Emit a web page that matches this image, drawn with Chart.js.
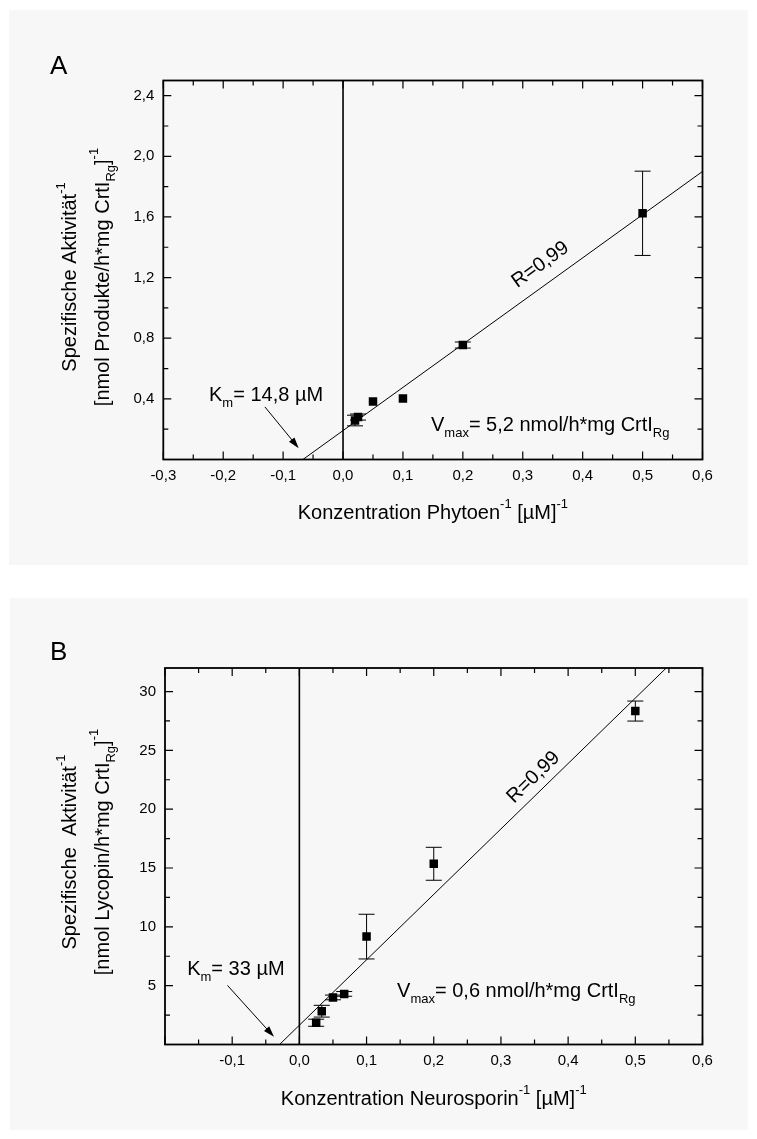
<!DOCTYPE html>
<html>
<head>
<meta charset="utf-8">
<script src="https://cdn.jsdelivr.net/npm/chart.js@4.4.1/dist/chart.umd.min.js"></script>
<style>
body { margin: 0; background: #fff; width: 757px; height: 1139px; position: relative; overflow: hidden; }
.panel { position: absolute; background: #f7f7f7; }
canvas { position: absolute; left: 0; }
</style>
</head>
<body>
<div class="panel" style="left:9px;top:10px;width:739px;height:555px"></div>
<div class="panel" style="left:10px;top:598px;width:738px;height:532px"></div>
<canvas id="chartA" width="757" height="580" style="top:0"></canvas>
<canvas id="chartB" width="757" height="559" style="top:580px"></canvas>
<script>
// DATA PANEL A (PHYTOEN)
const concA = [0.02, 0.025, 0.05, 0.1, 0.2, 0.5];
const activityA = [0.257, 0.28, 0.382, 0.403, 0.755, 1.624];
const errorA = [0.035, 0.02, 0, 0, 0.02, 0.278];
const fitXA = [-0.067, 0.6];
const fitYA = [0, 1.9];
const xTicksA = [-0.3, -0.2, -0.1, 0, 0.1, 0.2, 0.3, 0.4, 0.5, 0.6];
const xMinorA = [-0.25, -0.15, -0.05, 0.05, 0.15, 0.25, 0.35, 0.45, 0.55];
const yTicksA = [0.4, 0.8, 1.2, 1.6, 2.0, 2.4];
const yMinorA = [0.2, 0.6, 1.0, 1.4, 1.8, 2.2];

// DATA PANEL B (NEUROSPORIN)
const concB = [0.025, 0.0333, 0.05, 0.0667, 0.1, 0.2, 0.5];
const activityB = [1.85, 2.83, 4.0, 4.3, 9.17, 15.36, 28.34];
const errorB = [0.3, 0.5, 0.2, 0.2, 1.9, 1.4, 0.85];
const fitXB = [-0.0295, 0.546];
const fitYB = [0, 32];
const xTicksB = [-0.1, 0, 0.1, 0.2, 0.3, 0.4, 0.5, 0.6];
const xMinorB = [-0.15, -0.05, 0.05, 0.15, 0.25, 0.35, 0.45, 0.55];
const yTicksB = [5, 10, 15, 20, 25, 30];
const yMinorB = [2.5, 7.5, 12.5, 17.5, 22.5, 27.5];

const FONT = '"Liberation Sans", Arial, sans-serif';
const BIG = '20px ' + FONT;
const SMALL = '13px ' + FONT;

// FUNCTION FOR TEXT WITH SUPER- AND SUBSCRIPTS
function drawRich(ctx, parts, x, y, align, angle, base) {
    ctx.save();
    ctx.translate(x, y);
    ctx.rotate(angle || 0);
    ctx.fillStyle = "#000";
    ctx.textAlign = "left";
    ctx.textBaseline = base || "alphabetic";
    let total = 0;
    parts.forEach(function (p) {
        ctx.font = p[1] === 0 ? BIG : SMALL;
        total += ctx.measureText(p[0]).width;
    });
    let cx = align === "center" ? -total / 2 : 0;
    parts.forEach(function (p) {
        ctx.font = p[1] === 0 ? BIG : SMALL;
        const dy = p[1] === 1 ? -11 : p[1] === -1 ? 6 : 0;
        ctx.fillText(p[0], cx, dy);
        cx += ctx.measureText(p[0]).width;
    });
    ctx.restore();
}
// FUNCTION FOR TEXT WITH SUPER- AND SUBSCRIPTS

// PLUGIN: FRAME, INWARD TICKS, ERROR BARS, NOTES
const paperPlugin = {
    id: "paper",
    afterDatasetsDraw(chart, args, o) {
        const ctx = chart.ctx;
        const a = chart.chartArea;
        const x = chart.scales.x;
        const y = chart.scales.y;
        ctx.save();
        ctx.strokeStyle = "#000";
        ctx.fillStyle = "#000";

        // error bars
        ctx.lineWidth = 1;
        o.xs.forEach(function (v, i) {
            const e = o.errs[i];
            if (!e) return;
            const px = x.getPixelForValue(v);
            const top = y.getPixelForValue(o.ys[i] + e);
            const bot = y.getPixelForValue(o.ys[i] - e);
            ctx.beginPath();
            ctx.moveTo(px, top); ctx.lineTo(px, bot);
            ctx.moveTo(px - 8, top); ctx.lineTo(px + 8, top);
            ctx.moveTo(px - 8, bot); ctx.lineTo(px + 8, bot);
            ctx.stroke();
        });

        // ticks on all four sides, pointing inward
        ctx.lineWidth = 1.2;
        function xt(list, len) {
            list.forEach(function (v) {
                const p = x.getPixelForValue(v);
                ctx.beginPath();
                ctx.moveTo(p, a.bottom); ctx.lineTo(p, a.bottom - len);
                ctx.moveTo(p, a.top); ctx.lineTo(p, a.top + len);
                ctx.stroke();
            });
        }
        function yt(list, len) {
            list.forEach(function (v) {
                const p = y.getPixelForValue(v);
                ctx.beginPath();
                ctx.moveTo(a.left, p); ctx.lineTo(a.left + len, p);
                ctx.moveTo(a.right, p); ctx.lineTo(a.right - len, p);
                ctx.stroke();
            });
        }
        xt(o.xMajor, 8); xt(o.xMinor, 5);
        yt(o.yMajor, 8); yt(o.yMinor, 5);
        ctx.lineWidth = 1.8;
        ctx.strokeRect(a.left, a.top, a.right - a.left, a.bottom - a.top);

        // arrow to x intercept
        const ar = o.arrow;
        const x1 = x.getPixelForValue(ar[0]), y1 = y.getPixelForValue(ar[1]);
        const x2 = x.getPixelForValue(ar[2]), y2 = y.getPixelForValue(ar[3]);
        const ang = Math.atan2(y2 - y1, x2 - x1);
        ctx.lineWidth = 1;
        ctx.beginPath();
        ctx.moveTo(x1, y1);
        ctx.lineTo(x2 - 8 * Math.cos(ang), y2 - 8 * Math.sin(ang));
        ctx.stroke();
        ctx.beginPath();
        ctx.moveTo(x2, y2);
        ctx.lineTo(x2 - 11 * Math.cos(ang) + 3.5 * Math.sin(ang), y2 - 11 * Math.sin(ang) - 3.5 * Math.cos(ang));
        ctx.lineTo(x2 - 11 * Math.cos(ang) - 3.5 * Math.sin(ang), y2 - 11 * Math.sin(ang) + 3.5 * Math.cos(ang));
        ctx.closePath();
        ctx.fill();
        ctx.restore();

        // notes
        drawRich(ctx, o.km, x.getPixelForValue(o.kmAt[0]), y.getPixelForValue(o.kmAt[1]), "left");
        drawRich(ctx, o.vmax, x.getPixelForValue(o.vmaxAt[0]), y.getPixelForValue(o.vmaxAt[1]), "left");
        const fx1 = x.getPixelForValue(o.fitX[0]), fy1 = y.getPixelForValue(o.fitY[0]);
        const fx2 = x.getPixelForValue(o.fitX[1]), fy2 = y.getPixelForValue(o.fitY[1]);
        drawRich(ctx, [["R=0,99", 0]], x.getPixelForValue(o.rAt[0]), y.getPixelForValue(o.rAt[1]), "center",
            Math.atan2(fy2 - fy1, fx2 - fx1), "middle");

        // axis titles and panel letter
        drawRich(ctx, o.xTitle, (a.left + a.right) / 2, a.bottom + o.xTitleGap, "center");
        drawRich(ctx, o.yTitle1, 76, o.yTitleMid, "center", -Math.PI / 2);
        drawRich(ctx, o.yTitle2, 108.5, o.yTitleMid, "center", -Math.PI / 2);
        ctx.save();
        ctx.font = "26px " + FONT;
        ctx.fillStyle = "#000";
        ctx.fillText(o.letter, 50, o.letterY);
        ctx.restore();
    },
};
// PLUGIN: FRAME, INWARD TICKS, ERROR BARS, NOTES

// FUNCTION FOR ONE PANEL
function makePanel(id, d) {
    const pts = d.xs.map(function (v, i) { return { x: v, y: d.ys[i] }; });
    const fit = d.fitX.map(function (v, i) { return { x: v, y: d.fitY[i] }; });
    const fmt = d.fmt;
    return new Chart(document.getElementById(id), {
        type: "scatter",
        data: {
            datasets: [
                { type: "line", data: fit, borderColor: "#000", borderWidth: 1, pointRadius: 0, fill: false },
                { type: "line", data: [{ x: 0, y: d.yMin }, { x: 0, y: d.yMax }], borderColor: "#000", borderWidth: 1.6, pointRadius: 0, fill: false },
                { data: pts, pointStyle: "rect", pointRadius: 6, backgroundColor: "#000", borderWidth: 0 },
            ],
        },
        options: {
            responsive: false,
            animation: false,
            devicePixelRatio: 1,
            layout: { padding: { left: 0, top: d.padTop, right: 54.5, bottom: 0 } },
            plugins: {
                legend: { display: false },
                tooltip: { enabled: false },
                paper: d,
            },
            scales: {
                x: {
                    type: "linear",
                    min: d.xMin,
                    max: d.xMax,
                    grid: { display: false, drawTicks: false },
                    border: { display: false },
                    afterBuildTicks: function (s) { s.ticks = d.xMajorLabels.map(function (v) { return { value: v }; }); },
                    afterFit: function (s) { s.height = d.xHeight; },
                    ticks: {
                        padding: 7.5,
                        color: "#000",
                        font: { family: FONT, size: 15 },
                        maxRotation: 0,
                        callback: function (v) { return v.toFixed(1).replace(".", ","); },
                    },
                },
                y: {
                    type: "linear",
                    min: d.yMin,
                    max: d.yMax,
                    grid: { display: false, drawTicks: false },
                    border: { display: false },
                    afterBuildTicks: function (s) { s.ticks = d.yMajor.map(function (v) { return { value: v }; }); },
                    afterFit: function (s) { s.width = d.yWidth; },
                    ticks: {
                        padding: 9,
                        color: "#000",
                        font: { family: FONT, size: 15 },
                        callback: fmt,
                    },
                },
            },
        },
        plugins: [paperPlugin],
    });
}
// FUNCTION FOR ONE PANEL

makePanel("chartA", {
    xs: concA, ys: activityA, errs: errorA, fitX: fitXA, fitY: fitYA,
    xMin: -0.3, xMax: 0.6, yMin: 0, yMax: 2.5,
    xMajor: xTicksA, xMajorLabels: xTicksA, xMinor: xMinorA, yMajor: yTicksA, yMinor: yMinorA,
    fmt: function (v) { return v.toFixed(1).replace(".", ","); },
    padTop: 80.5, xHeight: 120.5, yWidth: 163.3,
    arrow: [-0.1304, 0.347, -0.074, 0.075],
    km: [["K", 0], ["m", -1], ["= 14,8 µM", 0]], kmAt: [-0.2237, 0.387],
    vmax: [["V", 0], ["max", -1], ["= 5,2 nmol/h*mg CrtI", 0], ["Rg", -1]], vmaxAt: [0.1468, 0.19],
    rAt: [0.3295, 1.285],
    xTitle: [["Konzentration Phytoen", 0], ["-1", 1], [" [µM]", 0], ["-1", 1]], xTitleGap: 59,
    yTitle1: [["Spezifische Aktivität", 0], ["-1", 1]],
    yTitle2: [["[nmol Produkte/h*mg CrtI", 0], ["Rg", -1], ["]", 0], ["-1", 1]],
    yTitleMid: 277, letter: "A", letterY: 74,
});

makePanel("chartB", {
    xs: concB, ys: activityB, errs: errorB, fitX: fitXB, fitY: fitYB,
    xMin: -0.2, xMax: 0.6, yMin: 0, yMax: 32,
    xMajor: [-0.2].concat(xTicksB), xMajorLabels: xTicksB, xMinor: xMinorB, yMajor: yTicksB, yMinor: yMinorB,
    fmt: function (v) { return String(v); },
    padTop: 88, xHeight: 94.5, yWidth: 165,
    arrow: [-0.107, 5.02, -0.0378, 0.65],
    km: [["K", 0], ["m", -1], ["= 33 µM", 0]], kmAt: [-0.167, 5.9],
    vmax: [["V", 0], ["max", -1], ["= 0,6 nmol/h*mg CrtI", 0], ["Rg", -1]], vmaxAt: [0.1454, 4.05],
    rAt: [0.3485, 22.7],
    xTitle: [["Konzentration Neurosporin", 0], ["-1", 1], [" [µM]", 0], ["-1", 1]], xTitleGap: 60,
    yTitle1: [["Spezifische  Aktivität", 0], ["-1", 1]],
    yTitle2: [["[nmol Lycopin/h*mg CrtI", 0], ["Rg", -1], ["]", 0], ["-1", 1]],
    yTitleMid: 272, letter: "B", letterY: 80,
});
</script>
</body>
</html>
